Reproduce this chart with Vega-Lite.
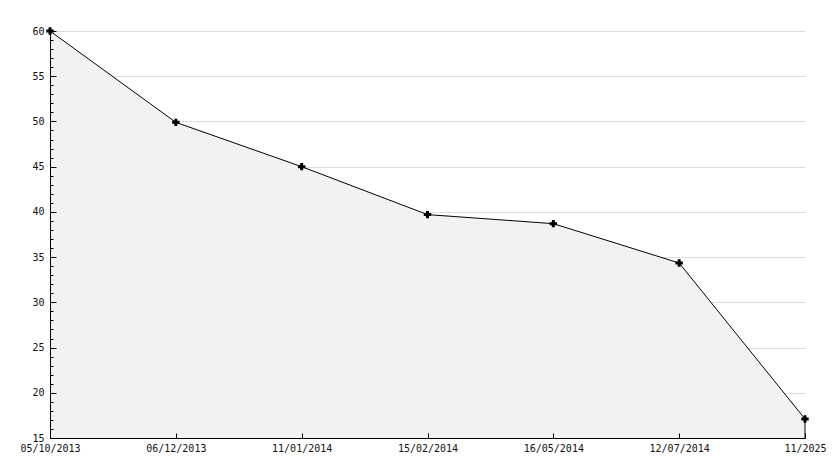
{
  "$schema": "https://vega.github.io/schema/vega-lite/v6.json",
  "width": 755,
  "height": 407,
  "autosize": {"type": "none"},
  "padding": {"left": 50, "top": 31, "right": 29, "bottom": 30},
  "background": "white",
  "config": {
    "view": {"stroke": null},
    "axis": {"labelFont": "DejaVu Sans Mono", "labelFontSize": 10, "labelColor": "#111", "titleFont": "DejaVu Sans Mono"}
  },
  "data": {
    "values": [
      {"date": "05/10/2013", "value": 60},
      {"date": "06/12/2013", "value": 49.9},
      {"date": "11/01/2014", "value": 45.0},
      {"date": "15/02/2014", "value": 39.7},
      {"date": "16/05/2014", "value": 38.7},
      {"date": "12/07/2014", "value": 34.35},
      {"date": "11/2025", "value": 17.1}
    ]
  },
  "resolve": {"axis": {"y": "independent"}},
  "layer": [
    {
      "mark": {"type": "area", "color": "#f2f2f2", "opacity": 1},
      "encoding": {
        "x": {
          "field": "date", "type": "nominal", "sort": null,
          "scale": {"type": "point", "padding": 0},
          "axis": {"title": null, "labelAngle": 0, "labelOverlap": false, "domainColor": "#000", "tickColor": "#000", "tickSize": -5, "labelPadding": 10, "grid": false, "zindex": 2}
        },
        "y": {
          "field": "value", "type": "quantitative",
          "scale": {"domain": [15, 60], "zero": false, "nice": false},
          "axis": {"title": null, "orient": "left", "values": [20, 25, 30, 35, 40, 45, 50, 55, 60], "labels": false, "ticks": false, "domain": false, "grid": true, "gridColor": "#dddddd", "zindex": 0}
        },
        "y2": {"datum": 15}
      }
    },
    {
      "layer": [
        {"mark": {"type": "line", "color": "#000", "strokeWidth": 1}},
        {"transform": [{"filter": "datum.date === '11/2025'"}], "mark": {"type": "rule", "color": "#000", "strokeWidth": 1}, "encoding": {"y2": {"datum": 15}}},
        {"mark": {"type": "point", "shape": "cross", "filled": true, "color": "#000", "size": 55, "opacity": 1}}
      ],
      "encoding": {
        "x": {"field": "date", "type": "nominal", "sort": null, "scale": {"type": "point", "padding": 0}},
        "y": {
          "field": "value", "type": "quantitative",
          "axis": {
            "title": null,
            "orient": "left",
            "values": [15,16,17,18,19,20,21,22,23,24,25,26,27,28,29,30,31,32,33,34,35,36,37,38,39,40,41,42,43,44,45,46,47,48,49,50,51,52,53,54,55,56,57,58,59,60],
            "labelExpr": "datum.value % 5 === 0 ? datum.label : ''",
            "domainColor": "#000",
            "tickColor": "#000",
            "tickSize": {"condition": {"test": "datum.value % 5 === 0", "value": -6}, "value": -3},
            "labelPadding": 12,
            "grid": false,
            "zindex": 2
          }
        }
      }
    }
  ]
}
